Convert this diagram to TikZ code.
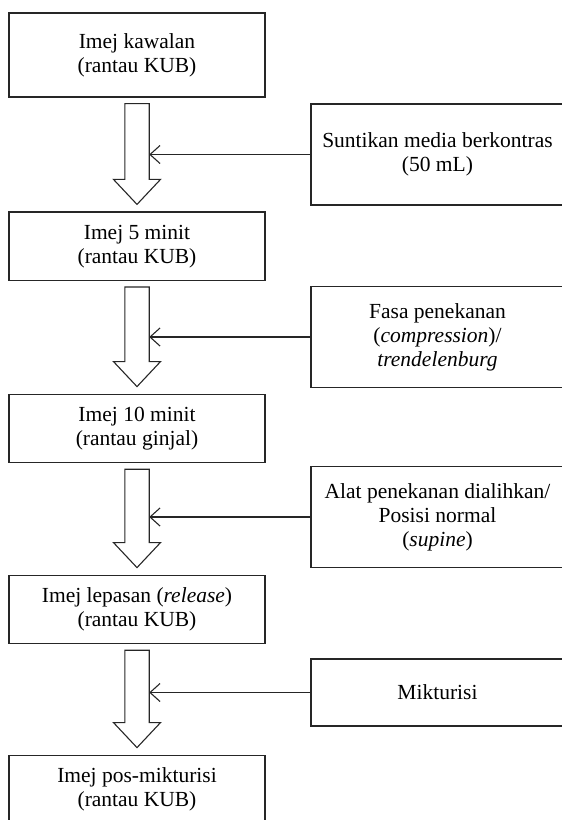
\documentclass[tikz,border=0pt]{standalone}
\usepackage{fontspec}
\setmainfont{Liberation Serif}
\usetikzlibrary{positioning,arrows.meta}

\begin{document}
\begin{tikzpicture}[x=0.5pt,y=-0.5pt,on grid,
    imej/.style={draw=black!85,line width=0.55pt,minimum width=128pt,minimum height=34.25pt,
      align=center,inner sep=0pt,font=\fontsize{10.75}{12}\selectfont},
    langkah/.style={draw=black!85,line width=0.55pt,minimum width=126.5pt,minimum height=50.5pt,
      align=center,inner sep=0pt,font=\fontsize{10.75}{12}\selectfont},
    blok/.style={draw=black!85,line width=0.55pt,line join=miter},
    >={Straight Barb[length=5pt,width=9pt]}]
    \useasboundingbox (0,0) rectangle (562,820);
    \clip (0,0) rectangle (562,820);
    % kotak kiri
    \node[imej,minimum height=42pt](kawalan) at (137,55){Imej kawalan\\(rantau KUB)};
    \node[imej](lima)[below=95.6pt of kawalan]{Imej 5 minit\\(rantau KUB)};
    \node[imej](sepuluh)[below=91.1pt of lima]{Imej 10 minit\\(rantau ginjal)};
    \node[imej](lepasan)[below=90.5pt of sepuluh]{Imej lepasan (\textit{release})\\(rantau KUB)};
    \node[imej](pasca)[below=90pt of lepasan]{Imej pos-mikturisi\\(rantau KUB)};
    % kotak kanan
    \node[langkah](suntikan) at (437.5,154.5){Suntikan media berkontras\\(50 mL)};
    \node[langkah](tekan) at (437.5,337){Fasa penekanan\\(\textit{compression})/\\\textit{trendelenburg}};
    \node[langkah](alih) at (437.5,517){Alat penekanan dialihkan/\\Posisi normal\\(\textit{supine})};
    \node[langkah,minimum height=33.5pt](mikturisi) at (437.5,692.5){Mikturisi};
    % anak panah blok
    \foreach \a/\b in {kawalan/lima,lima/sepuluh,sepuluh/lepasan,lepasan/pasca}{
      \draw[blok] ([xshift=-6.1pt,yshift=-3pt]\a.south) -- ([xshift=-6.1pt,yshift=16pt]\b.north)
        -- ([xshift=-11.75pt,yshift=16pt]\b.north) -- ([yshift=3.5pt]\b.north)
        -- ([xshift=11.75pt,yshift=16pt]\b.north) -- ([xshift=6.1pt,yshift=16pt]\b.north)
        -- ([xshift=6.1pt,yshift=-3pt]\a.south) -- cycle;
      \coordinate (tepi-\a) at ([xshift=6.1pt]\a.south);
    }
    \path[->,color=black!85,line width=0.55pt]
    (suntikan.west) edge (suntikan.west -| tepi-kawalan)
    (tekan.west) edge (tekan.west -| tepi-lima)
    (alih.west) edge (alih.west -| tepi-sepuluh)
    (mikturisi.west) edge (mikturisi.west -| tepi-lepasan);
  \end{tikzpicture}
\end{document}
